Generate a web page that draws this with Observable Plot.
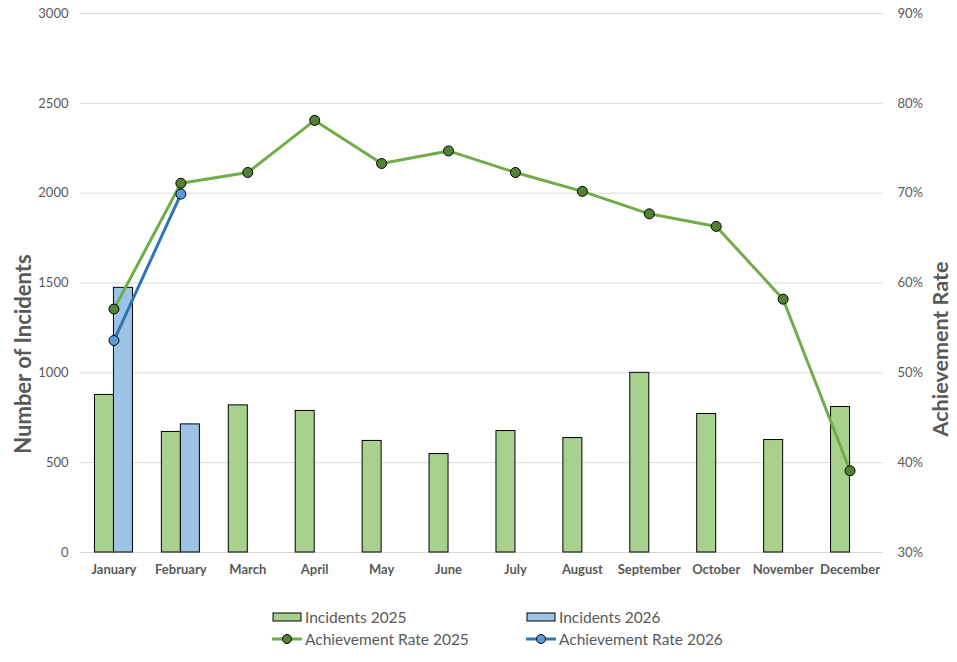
<!DOCTYPE html>
<html>
<head>
<meta charset="utf-8">
<script src="https://cdn.jsdelivr.net/npm/d3@7"></script>
<script src="https://cdn.jsdelivr.net/npm/@observablehq/plot@0.6"></script>
<style>
  html, body { margin: 0; padding: 0; background: #fff; }
  #wrap { position: relative; width: 957px; height: 662px; font-family: Lato, "Open Sans", sans-serif; }
  #legend { position: absolute; left: 0; top: 600px; width: 957px; height: 60px; }
  .item { position: absolute; display: flex; align-items: center; font-size: 15.5px; color: #595959; white-space: nowrap; }
  .item svg { display: block; margin-right: 2px; }
</style>
</head>
<body>
<div id="wrap">
  <div id="chart"></div>
  <div id="legend"></div>
</div>
<script>
const months = ["January","February","March","April","May","June","July","August","September","October","November","December"];
const incidents2025 = [877, 671, 819, 788, 621, 548, 676, 637, 1000, 771, 626, 810];
const incidents2026 = [1473, 713];
const rate2025 = [57.1, 71.1, 72.3, 78.1, 73.3, 74.7, 72.3, 70.2, 67.7, 66.3, 58.2, 39.1];
const rate2026 = [53.6, 69.9];
const leftTicks = [0, 500, 1000, 1500, 2000, 2500, 3000];
const rightTickLabels = ["30%", "40%", "50%", "60%", "70%", "80%", "90%"];
const seriesNames = ["Incidents 2025", "Incidents 2026", "Achievement Rate 2025", "Achievement Rate 2026"];
const axisTitles = ["Number of Incidents", "Achievement Rate"];

const rateMin = 30, rateMax = 90, yMax = 3000;
const rateToY = r => (r - rateMin) / (rateMax - rateMin) * yMax;

const bars25 = incidents2025.map((v, i) => ({month: months[i], value: v}));
const bars26 = incidents2026.map((v, i) => ({month: months[i], value: v}));
const line25 = rate2025.map((r, i) => ({month: months[i], y: rateToY(r)}));
const line26 = rate2026.map((r, i) => ({month: months[i], y: rateToY(r)}));

const W = 957, H = 595, mL = 80, mR = 74, mT = 13, mB = H - 552;
const bw = (W - mL - mR) / months.length;
const barW = 19;

const grey = "#595959";
const chart = Plot.plot({
  width: W, height: H,
  marginLeft: mL, marginRight: mR, marginTop: mT, marginBottom: mB,
  style: {fontFamily: "Lato, 'Open Sans', sans-serif", color: grey, background: "#fff", overflow: "visible"},
  x: {type: "band", domain: months, padding: 0, round: false, axis: null},
  y: {domain: [0, yMax], axis: null},
  marks: [
    Plot.ruleY(leftTicks, {stroke: "#d9d9d9", strokeWidth: 1}),
    Plot.barY(bars25, {x: "month", y: "value", fill: "#A9D18E", stroke: "#000", strokeWidth: 1,
      insetLeft: bw / 2 - barW, insetRight: bw / 2}),
    Plot.barY(bars26, {x: "month", y: "value", fill: "#9DC3E6", stroke: "#000", strokeWidth: 1,
      insetLeft: bw / 2, insetRight: bw / 2 - barW}),
    Plot.line(line25, {x: "month", y: "y", stroke: "#70AD47", strokeWidth: 3}),
    Plot.line(line26, {x: "month", y: "y", stroke: "#2E75B6", strokeWidth: 3}),
    Plot.dot(line25, {x: "month", y: "y", r: 5, fill: "#548235", stroke: "#000", strokeWidth: 1}),
    Plot.dot(line26, {x: "month", y: "y", r: 5, fill: "#5B9BD5", stroke: "#000", strokeWidth: 1}),
    Plot.axisY(leftTicks, {anchor: "left", tickSize: 0, tickPadding: 12, fontSize: 13, fill: grey, label: null, tickFormat: d => String(d)}),
    Plot.axisY(leftTicks, {anchor: "right", tickSize: 0, tickPadding: 14, fontSize: 13, fill: grey, label: null,
      tickFormat: d => rightTickLabels[leftTicks.indexOf(d)]}),
    Plot.axisX(months, {anchor: "bottom", tickSize: 0, tickPadding: 12, fontSize: 13, fontWeight: "bold", fill: grey, label: null}),
    Plot.text([axisTitles[0]], {frameAnchor: "left", textAnchor: "middle", text: d => d, rotate: -90, dx: -57, dy: 71,
      fontSize: 22, fontWeight: "bold", fill: grey}),
    Plot.text([axisTitles[1]], {frameAnchor: "right", textAnchor: "middle", text: d => d, rotate: -90, dx: 58, dy: 66,
      fontSize: 21.5, fontWeight: "bold", fill: grey})
  ]
});
document.getElementById("chart").appendChild(chart);

// Legend
const legend = document.getElementById("legend");
const legendPos = [
  {left: 272, top: 8}, {left: 526, top: 8},
  {left: 272, top: 30}, {left: 526, top: 30}
];
const swatch = [
  `<svg width="31" height="12"><rect x="1" y="2" width="28" height="8" fill="#A9D18E" stroke="#000"/></svg>`,
  `<svg width="31" height="12"><rect x="1" y="2" width="28" height="8" fill="#9DC3E6" stroke="#000"/></svg>`,
  `<svg width="31" height="12"><line x1="0" x2="30" y1="6" y2="6" stroke="#70AD47" stroke-width="3"/><circle cx="15" cy="6" r="4.5" fill="#548235" stroke="#000"/></svg>`,
  `<svg width="31" height="12"><line x1="0" x2="30" y1="6" y2="6" stroke="#2E75B6" stroke-width="3"/><circle cx="15" cy="6" r="4.5" fill="#5B9BD5" stroke="#000"/></svg>`
];
seriesNames.forEach((name, i) => {
  const d = document.createElement("div");
  d.className = "item";
  d.style.left = legendPos[i].left + "px";
  d.style.top = legendPos[i].top + "px";
  d.innerHTML = swatch[i] + `<span>${name}</span>`;
  legend.appendChild(d);
});
</script>
</body>
</html>
